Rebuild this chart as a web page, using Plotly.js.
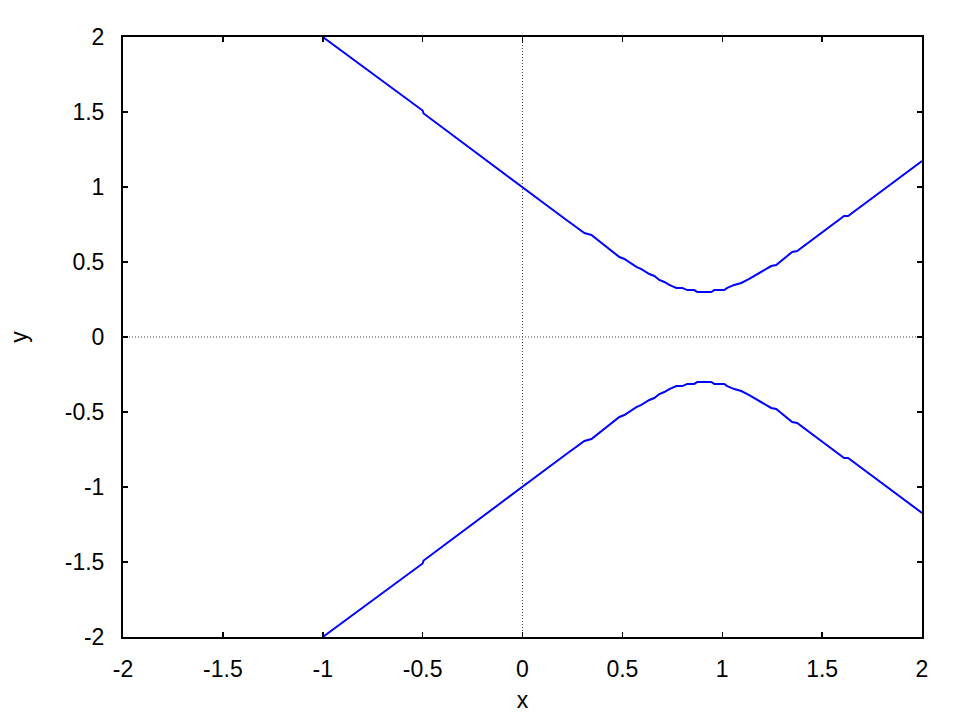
<!DOCTYPE html>
<html>
<head>
<meta charset="utf-8">
<script src="https://cdn.plot.ly/plotly-3.0.1.min.js"></script>
<style>html,body{margin:0;padding:0;background:#fff;}#chart{width:966px;height:725px;}</style>
</head>
<body>
<div id="chart"></div>
<script>
// Upper branch
const upperX = [-1.0, -0.75, -0.5, -0.495, -0.25, 0.0, 0.22, 0.31, 0.345, 0.485, 0.51, 0.57, 0.595, 0.635, 0.66, 0.685, 0.71, 0.735, 0.77, 0.80, 0.825, 0.86, 0.875, 0.945, 0.96, 1.01, 1.025, 1.06, 1.095, 1.135, 1.185, 1.245, 1.27, 1.35, 1.375, 1.585, 1.61, 1.63, 1.8, 2.0];
const upperY = [2.0, 1.755, 1.51, 1.49, 1.245, 1.0, 0.78, 0.693, 0.68, 0.533, 0.52, 0.467, 0.453, 0.42, 0.407, 0.38, 0.367, 0.347, 0.327, 0.327, 0.313, 0.313, 0.30, 0.30, 0.313, 0.313, 0.327, 0.347, 0.36, 0.387, 0.427, 0.473, 0.48, 0.567, 0.573, 0.787, 0.807, 0.807, 0.975, 1.173];
// Lower branch
const lowerX = [-1.0, -0.75, -0.5, -0.495, -0.25, 0.0, 0.22, 0.31, 0.345, 0.485, 0.51, 0.57, 0.595, 0.635, 0.66, 0.685, 0.71, 0.735, 0.77, 0.80, 0.825, 0.86, 0.875, 0.945, 0.96, 1.01, 1.025, 1.06, 1.095, 1.135, 1.185, 1.245, 1.27, 1.35, 1.375, 1.585, 1.61, 1.63, 1.8, 2.0];
const lowerY = [-2.0, -1.755, -1.51, -1.49, -1.245, -1.0, -0.78, -0.693, -0.68, -0.533, -0.52, -0.467, -0.453, -0.42, -0.407, -0.38, -0.367, -0.347, -0.327, -0.327, -0.313, -0.313, -0.30, -0.30, -0.313, -0.313, -0.327, -0.347, -0.36, -0.387, -0.427, -0.473, -0.48, -0.567, -0.573, -0.787, -0.807, -0.807, -0.975, -1.173];

const tickVals = [-2, -1.5, -1, -0.5, 0, 0.5, 1, 1.5, 2];
const tickText = ['-2', '-1.5', '-1', '-0.5', '0', '0.5', '1', '1.5', '2'];

const FONT = 'Liberation Sans, Arial, Helvetica, sans-serif';
const lineStyle = {color: '#0000ff', width: 2};
const traces = [
  {x: upperX, y: upperY, mode: 'lines', line: lineStyle, hoverinfo: 'skip'},
  {x: lowerX, y: lowerY, mode: 'lines', line: lineStyle, hoverinfo: 'skip'}
];

const axisCommon = {
  showgrid: false, zeroline: false, showline: true, linecolor: '#000', linewidth: 2,
  mirror: 'ticks', ticks: 'inside', ticklen: 5, tickwidth: 1.5, tickcolor: '#000',
  tickmode: 'array', tickvals: tickVals, ticktext: tickText,
  tickfont: {family: FONT, size: 23, color: '#000'}
};

const layout = {
  width: 966, height: 725,
  margin: {l: 123, r: 44, t: 37, b: 88},
  paper_bgcolor: '#fff', plot_bgcolor: '#fff',
  showlegend: false,
  xaxis: Object.assign({}, axisCommon, {range: [-2, 2], ticklabelstandoff: 10,
    title: {text: 'x', font: {family: FONT, size: 23, color: '#000'}, standoff: 11}}),
  yaxis: Object.assign({}, axisCommon, {range: [-2, 2], ticklabelstandoff: 12,
    title: {text: 'y', font: {family: FONT, size: 23, color: '#000'}, standoff: 31}}),
  shapes: [
    {type: 'line', xref: 'x', yref: 'paper', x0: 0, x1: 0, y0: 0, y1: 1, line: {color: '#444', width: 1, dash: '1px,2px'}, layer: 'below'},
    {type: 'line', xref: 'paper', yref: 'y', x0: 0, x1: 1, y0: 0, y1: 0, line: {color: '#444', width: 1, dash: '1px,2px'}, layer: 'below'}
  ]
};

Plotly.newPlot('chart', traces, layout, {displayModeBar: false, staticPlot: true});
</script>
</body>
</html>
